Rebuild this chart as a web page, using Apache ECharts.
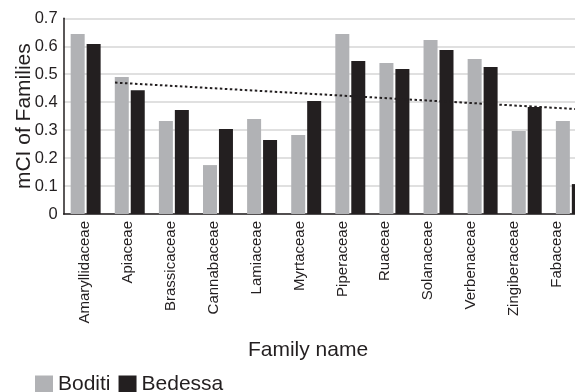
<!DOCTYPE html>
<html>
<head>
<meta charset="utf-8">
<script src="https://cdn.jsdelivr.net/npm/echarts@6/dist/echarts.min.js"></script>
<style>
  html, body { margin: 0; padding: 0; background: #fff; overflow: hidden; }
  #chart { width: 575px; height: 392px; }
</style>
</head>
<body>
<div id="chart"></div>
<script>
// Plant families and their mCI values at the two sites
const categories = ['Amaryllidaceae', 'Apiaceae', 'Brassicaceae', 'Cannabaceae', 'Lamiaceae', 'Myrtaceae',
  'Piperaceae', 'Ruaceae', 'Solanaceae', 'Verbenaceae', 'Zingiberaceae', 'Fabaceae'];
const boditi  = [0.644, 0.490, 0.333, 0.175, 0.340, 0.283, 0.644, 0.540, 0.622, 0.554, 0.297, 0.333];
const bedessa = [0.608, 0.443, 0.372, 0.304, 0.265, 0.404, 0.547, 0.519, 0.587, 0.526, 0.383, 0.107];

// Dotted linear trend: position along the family axis (in bands) and its value
const trendX = [1.165, 12];
const trendY = [0.470, 0.372];

const ink = '#231f20';
const chart = echarts.init(document.getElementById('chart'), null, { renderer: 'canvas' });

chart.setOption({
  animation: false,
  textStyle: { fontFamily: '"Liberation Sans", Arial, sans-serif' },
  grid: [
    // grid for the bars and the trend line
    { left: 63.6, top: 18.3, width: 529.3, height: 195.7, outerBoundsMode: 'none' },
    // grid carrying the visible axes, labels and gridlines
    { left: 63.6, top: 18.3, width: 514.8, height: 195.7, outerBoundsMode: 'none' }
  ],
  xAxis: [
    { gridIndex: 0, type: 'category', data: categories, show: false },
    { gridIndex: 0, type: 'value', min: 0, max: 12, show: false },
    {
      gridIndex: 1, type: 'category', data: categories,
      axisLine: { lineStyle: { color: ink, width: 1.5 } },
      axisTick: { show: false },
      axisLabel: { rotate: 90, fontSize: 15, color: ink, margin: 7, interval: 0 },
      name: 'Family name', nameLocation: 'middle', nameGap: 126, nameMoveOverlap: false,
      nameTextStyle: { fontSize: 21, color: ink, padding: [0, 26, 0, 0] }
    }
  ],
  yAxis: [
    { gridIndex: 0, type: 'value', min: 0, max: 0.7, show: false },
    {
      gridIndex: 1, type: 'value', min: 0, max: 0.7, interval: 0.1,
      axisLine: { show: true, lineStyle: { color: ink, width: 1.5 } },
      axisTick: { show: false },
      axisLabel: { fontSize: 16.5, color: ink, margin: 6 },
      splitLine: { lineStyle: { color: '#d6d6d6', width: 1.5 } },
      name: 'mCI of Families', nameLocation: 'middle', nameGap: 29, nameMoveOverlap: false,
      nameTextStyle: { fontSize: 21, color: ink }
    }
  ],
  legend: {
    left: 35, top: 374, padding: 0,
    itemWidth: 18, itemHeight: 18, itemGap: 8, icon: 'rect',
    textStyle: { fontSize: 21, color: ink },
    data: ['Boditi', 'Bedessa']
  },
  series: [
    {
      name: 'Boditi', type: 'bar', xAxisIndex: 0, yAxisIndex: 0,
      data: boditi, barWidth: 14, barGap: '14%',
      itemStyle: { color: '#b1b2b5' }
    },
    {
      name: 'Bedessa', type: 'bar', xAxisIndex: 0, yAxisIndex: 0,
      data: bedessa, barWidth: 14, barGap: '14%',
      itemStyle: { color: ink }
    },
    {
      name: 'trend', type: 'line', xAxisIndex: 1, yAxisIndex: 0,
      data: trendX.map((x, i) => [x, trendY[i]]),
      symbol: 'none', silent: true, z: 5,
      lineStyle: { type: [2.5, 2.5], width: 2, color: ink }
    }
  ]
});
</script>
</body>
</html>
